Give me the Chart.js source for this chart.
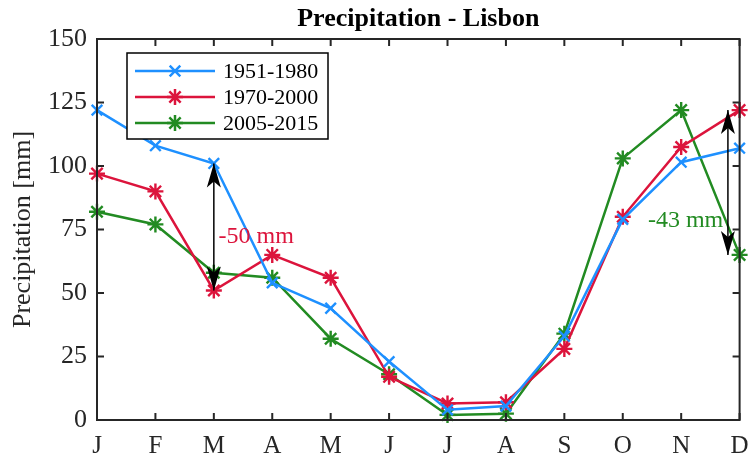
<!DOCTYPE html>
<html>
<head>
<meta charset="utf-8">
<script src="https://cdn.jsdelivr.net/npm/chart.js@4.4.1/dist/chart.umd.min.js"></script>
<style>
  html, body { margin: 0; padding: 0; background: #fff; }
  #wrap { width: 750px; height: 459px; }
</style>
</head>
<body>
<div id="wrap"><canvas id="chart" width="750" height="459"></canvas></div>
<script>
// Monthly precipitation for Lisbon [mm]
const months = ['J', 'F', 'M', 'A', 'M', 'J', 'J', 'A', 'S', 'O', 'N', 'D'];
const p1951 = [122, 108, 101, 54, 44, 23, 4, 5.5, 33, 79, 101.5, 107];
const p1970 = [97, 90, 51, 65, 56, 17, 6.5, 7, 28, 80, 107.5, 122];
const p2005 = [82, 77, 58, 56, 32, 18, 2, 2.5, 34, 103, 122, 65];
const yTicks = [0, 25, 50, 75, 100, 125, 150];

// Difference arrows: month index, from value, to value
const arrowX = [2, 10.8];
const arrowFrom = [101, 122];
const arrowTo = [51, 65];
// Difference labels
const noteText = ['-50 mm', '-43 mm'];
const noteX = [2.08, 9.43];
const noteY = [72, 78.5];
const noteColor = ['#dc143c', '#228b22'];

const SERIF = '"Liberation Serif", "Times New Roman", serif';
const AXIS = '#262626';

const series = [
    { label: '1951-1980', data: p1951, color: '#1e90ff', style: 'crossRot', r: 7.5 },
    { label: '1970-2000', data: p1970, color: '#dc143c', style: 'star', r: 8 },
    { label: '2005-2015', data: p2005, color: '#228b22', style: 'star', r: 8 }
];

function drawArrowHead(ctx, x, tipY, dir) {
    // dir = -1 pointing up, +1 pointing down
    const len = 24, half = 7, notch = 18;
    ctx.beginPath();
    ctx.moveTo(x, tipY);
    ctx.lineTo(x - half, tipY - dir * len);
    ctx.lineTo(x, tipY - dir * notch);
    ctx.lineTo(x + half, tipY - dir * len);
    ctx.closePath();
    ctx.fill();
}

const framePlugin = {
    id: 'frame',
    afterDatasetsDraw(chart) {
        const ctx = chart.ctx;
        const a = chart.chartArea;
        const xs = chart.scales.x, ys = chart.scales.y;
        ctx.save();

        // arrows
        ctx.strokeStyle = '#000';
        ctx.fillStyle = '#000';
        ctx.lineWidth = 1.5;
        arrowX.forEach((mx, i) => {
            const x = xs.getPixelForValue(mx);
            const y1 = ys.getPixelForValue(arrowFrom[i]);
            const y2 = ys.getPixelForValue(arrowTo[i]);
            ctx.beginPath();
            ctx.moveTo(x, y1);
            ctx.lineTo(x, y2);
            ctx.stroke();
            drawArrowHead(ctx, x, y1, -1);
            drawArrowHead(ctx, x, y2, 1);
        });

        // notes
        ctx.font = '24px ' + SERIF;
        ctx.textAlign = 'left';
        ctx.textBaseline = 'middle';
        noteText.forEach((t, i) => {
            ctx.fillStyle = noteColor[i];
            ctx.fillText(t, xs.getPixelForValue(noteX[i]), ys.getPixelForValue(noteY[i]));
        });

        // frame and inward ticks
        ctx.strokeStyle = AXIS;
        ctx.lineWidth = 2;
        ctx.strokeRect(a.left, a.top, a.right - a.left, a.bottom - a.top);
        const tl = 7;
        ctx.beginPath();
        months.forEach((m, i) => {
            const x = xs.getPixelForValue(i);
            ctx.moveTo(x, a.bottom); ctx.lineTo(x, a.bottom - tl);
            ctx.moveTo(x, a.top); ctx.lineTo(x, a.top + tl);
        });
        yTicks.forEach(v => {
            const y = ys.getPixelForValue(v);
            ctx.moveTo(a.left, y); ctx.lineTo(a.left + tl, y);
            ctx.moveTo(a.right, y); ctx.lineTo(a.right - tl, y);
        });
        ctx.stroke();

        // legend
        const lx = 127, ly = 53, lw = 201, lh = 86;
        ctx.fillStyle = '#fff';
        ctx.fillRect(lx, ly, lw, lh);
        ctx.strokeStyle = '#000';
        ctx.lineWidth = 1.5;
        ctx.strokeRect(lx, ly, lw, lh);
        ctx.font = '22px ' + SERIF;
        ctx.textAlign = 'left';
        ctx.textBaseline = 'middle';
        series.forEach((s, i) => {
            const y = ly + 18 + i * 26;
            ctx.strokeStyle = s.color;
            ctx.lineWidth = 2.5;
            ctx.beginPath();
            ctx.moveTo(lx + 8, y);
            ctx.lineTo(lx + 88, y);
            ctx.stroke();
            Chart.helpers.drawPoint(ctx, {
                pointStyle: s.style, radius: s.r, borderWidth: 2.4,
                rotation: 0
            }, lx + 48, y);
            ctx.fillStyle = '#000';
            ctx.fillText(s.label, lx + 96, y + 1);
        });

        // title
        ctx.fillStyle = '#000';
        ctx.font = 'bold 26px ' + SERIF;
        ctx.textAlign = 'center';
        ctx.textBaseline = 'middle';
        ctx.fillText('Precipitation - Lisbon', (a.left + a.right) / 2, 19);
        ctx.restore();
    }
};

new Chart(document.getElementById('chart'), {
    type: 'line',
    data: {
        labels: months,
        datasets: series.map(s => ({
            label: s.label,
            data: s.data,
            borderColor: s.color,
            backgroundColor: s.color,
            borderWidth: 2.5,
            pointStyle: s.style,
            pointRadius: s.r,
            pointBorderWidth: 2.4,
            pointBorderColor: s.color,
            tension: 0,
            clip: false
        }))
    },
    options: {
        responsive: false,
        animation: false,
        devicePixelRatio: 1,
        layout: { padding: { top: 39, right: 6, left: 0, bottom: 0 } },
        plugins: {
            legend: { display: false },
            title: { display: false },
            tooltip: { enabled: false }
        },
        scales: {
            x: {
                type: 'category',
                offset: false,
                grid: { display: false, drawTicks: false },
                border: { display: false },
                ticks: {
                    color: AXIS,
                    font: { family: SERIF, size: 25 },
                    padding: 11,
                    maxRotation: 0,
                    autoSkip: false
                },
                afterFit: s => {
                    s.height = 39;
                    s.paddingLeft = 0;
                    s.paddingRight = 0;
                }
            },
            y: {
                min: 0,
                max: 150,
                grid: { display: false, drawTicks: false },
                border: { display: false },
                afterBuildTicks: s => { s.ticks = yTicks.map(v => ({ value: v })); },
                ticks: {
                    color: AXIS,
                    font: { family: SERIF, size: 26 },
                    padding: 10
                },
                title: {
                    display: true,
                    text: 'Precipitation [mm]',
                    color: AXIS,
                    font: { family: SERIF, size: 26 },
                    padding: { top: 8, bottom: 0 }
                },
                afterFit: s => {
                    s.width = 97;
                    s.paddingTop = 0;
                    s.paddingBottom = 0;
                }
            }
        }
    },
    plugins: [framePlugin]
});
</script>
</body>
</html>
